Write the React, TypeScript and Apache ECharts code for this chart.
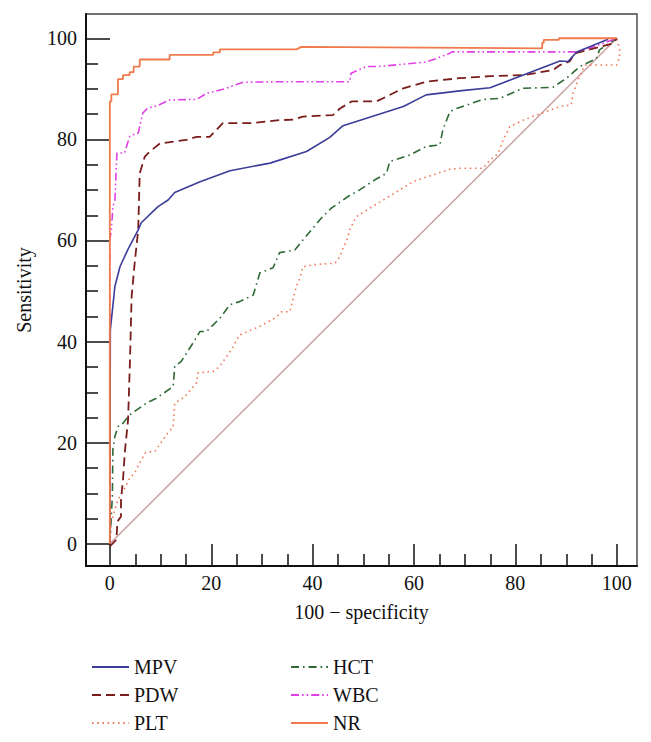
import React, { useEffect, useRef } from "react";
import * as echarts from "echarts";

type P = [number, number];

const X_TICKS = [0, 20, 40, 60, 80, 100];
const Y_TICKS = [0, 20, 40, 60, 80, 100];
const X_RANGE = [-4.7, 104];
const Y_RANGE = [-4.4, 104.8];

const REF: P[] = [[0, 0], [100, 100]];

const MPV: P[] = [
  [0, 0], [0.1, 42.3], [1.0, 50.9], [2.0, 54.8], [3.6, 58.3], [5.6, 62.1], [6.2, 63.5],
  [9.5, 66.7], [11.5, 68.0], [12.8, 69.5], [17.8, 71.6], [23.7, 73.8], [31.6, 75.3],
  [38.8, 77.6], [43.4, 80.4], [46, 82.7], [57.9, 86.5], [62.4, 88.8], [69, 89.6],
  [75, 90.2], [88.8, 95.5], [90.4, 95.4], [92.1, 97.3], [98.3, 99.8],
];

const PDW: P[] = [
  [0, -0.5], [1.3, 0.8], [1.5, 4.4], [2.2, 5.4], [2.2, 8.7], [2.6, 12.7], [3.0, 18.6],
  [3.6, 24.5], [4.0, 37], [4.3, 48.9], [4.9, 55.5], [5.6, 62.1], [5.9, 73.3], [6.9, 76.6],
  [7.9, 77.6], [9.9, 79.2], [15.1, 79.9], [17.1, 80.5], [19.7, 80.5], [22.3, 83.2],
  [27.6, 83.2], [33.5, 83.8], [36.2, 83.9], [38.1, 84.5], [44.0, 84.8], [45.4, 86.1],
  [47.7, 87.5], [52.6, 87.5], [57.9, 90.1], [62.4, 91.4], [69, 92.1], [75, 92.5],
  [81.5, 92.7], [87.4, 93.7], [88.8, 94.7], [90.7, 95.4], [91.7, 97.0], [94.7, 97.8],
  [99.3, 99.0], [100, 100],
];

const PLT: P[] = [
  [0, 0], [0.3, 4.4], [1.6, 8.7], [3.1, 11.3], [3.9, 13.0], [4.9, 14.0], [5.9, 16.0],
  [7.0, 18.0], [9.0, 18.4], [11.2, 21.6], [12.5, 23.2], [12.8, 27.8], [14.8, 29.1],
  [17.1, 31.8], [17.4, 33.8], [20.4, 34.1], [21.7, 35.1], [23, 37.0], [24, 38.4],
  [25.6, 41.3], [29.6, 43.0], [32.5, 44.6], [33.9, 45.9], [35.5, 45.9], [36.2, 48.6],
  [36.8, 50.9], [37.5, 52.5], [38.1, 54.8], [40.1, 55.2], [44.4, 55.5], [45.4, 56.8],
  [46, 58.5], [46.7, 59.8], [47.3, 62.1], [48.6, 64.7], [51.3, 66.4], [54.6, 68.4],
  [57.2, 70.0], [59.8, 71.6], [63.8, 73.0], [67.1, 74.1], [69, 74.3], [73.6, 74.3],
  [75, 75.9], [76.6, 77.2], [77.6, 79.9], [78.9, 82.5], [81.5, 83.8], [84.1, 84.8],
  [86.1, 85.5], [88.8, 86.5], [91, 86.8], [91.4, 89.1], [92.4, 91.8], [93.7, 94.7],
  [100, 94.7], [100.5, 96], [100.6, 97.7], [100, 100],
];

const HCT: P[] = [
  [0, 0], [0.5, 9.4], [0.6, 18.6], [1.0, 21.2], [1.6, 23.2], [2.3, 23.5], [3.9, 25.5],
  [7.2, 27.8], [9.2, 28.8], [12.5, 31.1], [12.8, 35.1], [14.1, 36.1], [16.4, 39.7],
  [17.8, 42.0], [19.1, 42.0], [21.7, 44.6], [23.7, 47.3], [25.6, 47.9], [28.3, 49.2],
  [29.6, 53.6], [32.2, 54.6], [33.5, 57.6], [36.5, 58.1], [38.1, 60.1], [41.7, 64.4],
  [43.7, 66.4], [47, 68.7], [49.3, 70.0], [52.3, 72.0], [54.6, 73.3], [55.2, 75.6],
  [59.2, 76.9], [62.4, 78.6], [65.1, 78.9], [65.7, 81.9], [67.1, 85.5], [68.4, 86.1],
  [73.6, 87.9], [76.9, 88.1], [81.5, 90.1], [87.4, 90.3], [90.1, 92.1], [92.7, 94.4],
  [96, 96.0], [96.6, 97.7], [100, 100],
];

const WBC: P[] = [
  [0, 0], [0, 60], [0.3, 62.1], [0.6, 66.7], [1.0, 68.0], [1.4, 77.3], [2.9, 77.3],
  [3.9, 80.5], [4.5, 80.9], [5.6, 81.2], [6.5, 85.2], [7.5, 86.2], [9.2, 86.6],
  [11.8, 87.8], [17.1, 87.9], [19.1, 89.1], [22.3, 89.9], [26.3, 91.3], [33.5, 91.4],
  [47.3, 91.4], [47.6, 93.1], [50.6, 94.4], [52.9, 94.4], [62.4, 95.3], [64.4, 96.0],
  [67, 97.0], [67.5, 97.3], [92, 97.3], [96, 98.5], [100, 100],
];

const NR: P[] = [
  [0, 0], [0, 87.5], [0.3, 87.5], [0.3, 88.9], [1.6, 88.9], [1.6, 91.9], [2.6, 91.9],
  [2.6, 92.7], [3.9, 92.7], [3.9, 93.3], [4.7, 93.3], [4.7, 94.4], [5.9, 94.4],
  [5.9, 95.8], [11.8, 95.8], [11.8, 96.7], [20.4, 96.7], [20.4, 97.2], [21.7, 97.2],
  [21.7, 97.8], [36.8, 97.8], [37.8, 98.3], [85.3, 98.0], [85.3, 99.1], [85.6, 99.1],
  [85.6, 99.7], [88.6, 99.7], [88.6, 100], [100, 100],
];

const FONT = "'Liberation Serif', 'DejaVu Serif', serif";

export default function App() {
  const ref = useRef<HTMLDivElement>(null);

  useEffect(() => {
    if (!ref.current) return;
    const chart = echarts.init(ref.current, undefined, { renderer: "svg" });

    const line = (name: string, data: P[], color: string, width: number, type: any) => ({
      name,
      type: "line",
      xAxisIndex: 0,
      yAxisIndex: 0,
      data,
      symbol: "none",
      showSymbol: false,
      clip: false,
      itemStyle: { color },
      lineStyle: { color, width, type },
    });

    const tickStyle = { color: "#111", width: 1.5 };
    const legendBase = {
      orient: "vertical",
      top: 652,
      itemWidth: 37,
      itemHeight: 14,
      itemGap: 8,
      selectedMode: false,
      itemStyle: { color: "transparent", borderWidth: 0, opacity: 0 },
      textStyle: { fontSize: 20, fontFamily: FONT, color: "#111" },
    };
    const labelStyle = { fontSize: 20, fontFamily: FONT, color: "#111" };
    const hidden = (gridIndex: number) => ({
      gridIndex, type: "value", min: 0, max: 1, show: false,
      axisLine: { show: false, onZero: false },
      axisTick: { show: false }, axisLabel: { show: false }, splitLine: { show: false },
    });

    chart.setOption({
      animation: false,
      backgroundColor: "#fff",
      grid: [
        // main plot frame
        { left: 86, right: 14, top: 14, bottom: 176, show: true, borderColor: "#444", borderWidth: 1.4 },
        // strip left of the frame: its right-hand axis sits on the frame, ticks point into the plot
        { left: 40, width: 46, top: 38.3, bottom: 198 },
        // strip below the frame: its top axis sits on the frame, ticks point up into the plot
        { left: 110, right: 34, top: 566, height: 40 },
      ],
      xAxis: [
        {
          gridIndex: 0, type: "value", min: X_RANGE[0], max: X_RANGE[1],
          axisLine: { show: true, onZero: false, lineStyle: { color: "#111", width: 2 } },
          axisTick: { show: false },
          axisLabel: { show: true, margin: 7, customValues: X_TICKS, ...labelStyle },
          splitLine: { show: false },
          name: "100 \u2212 specificity",
          nameLocation: "middle",
          nameGap: 36,
          nameTextStyle: labelStyle,
        },
        hidden(1),
        {
          gridIndex: 2, type: "value", min: X_TICKS[0], max: X_TICKS[X_TICKS.length - 1], interval: 20,
          position: "top",
          axisLine: { show: false, onZero: false },
          axisTick: { show: true, inside: false, length: 22, lineStyle: tickStyle },
          minorTick: { show: true, splitNumber: 4, length: 12, lineStyle: tickStyle },
          axisLabel: { show: false },
          splitLine: { show: false },
          minorSplitLine: { show: false },
        },
      ],
      yAxis: [
        {
          gridIndex: 0, type: "value", min: Y_RANGE[0], max: Y_RANGE[1],
          axisLine: { show: true, onZero: false, lineStyle: { color: "#111", width: 2 } },
          axisTick: { show: false },
          axisLabel: { show: true, margin: 9, customValues: Y_TICKS, ...labelStyle },
          splitLine: { show: false },
          name: "Sensitivity",
          nameLocation: "middle",
          nameGap: 52,
          nameTextStyle: labelStyle,
        },
        {
          gridIndex: 1, type: "value", min: Y_TICKS[0], max: Y_TICKS[Y_TICKS.length - 1], interval: 20,
          position: "right",
          axisLine: { show: false, onZero: false },
          axisTick: { show: true, inside: false, length: 24, lineStyle: tickStyle },
          minorTick: { show: true, splitNumber: 4, length: 12, lineStyle: tickStyle },
          axisLabel: { show: false },
          splitLine: { show: false },
          minorSplitLine: { show: false },
        },
        hidden(2),
      ],
      legend: [
        { ...legendBase, data: ["MPV", "PDW", "PLT"], left: 86 },
        { ...legendBase, data: ["HCT", "WBC", "NR"], left: 285 },
      ],
      series: [
        line("ref", REF, "#C9A0A0", 1.5, "solid"),
        line("PLT", PLT, "#F07C5C", 1.6, [1.6, 3.6]),
        line("HCT", HCT, "#2F6A36", 1.6, [8, 4, 1.6, 4]),
        line("WBC", WBC, "#E040E6", 1.6, [8, 3, 1.6, 3, 1.6, 3]),
        line("PDW", PDW, "#7A1C1C", 1.8, [9, 5]),
        line("MPV", MPV, "#3C3C9A", 1.6, "solid"),
        line("NR", NR, "#F07A4C", 1.8, "solid"),
      ],
    });

    return () => chart.dispose();
  }, []);

  return <div ref={ref} style={{ width: 651, height: 742, margin: -8 }} />;
}
